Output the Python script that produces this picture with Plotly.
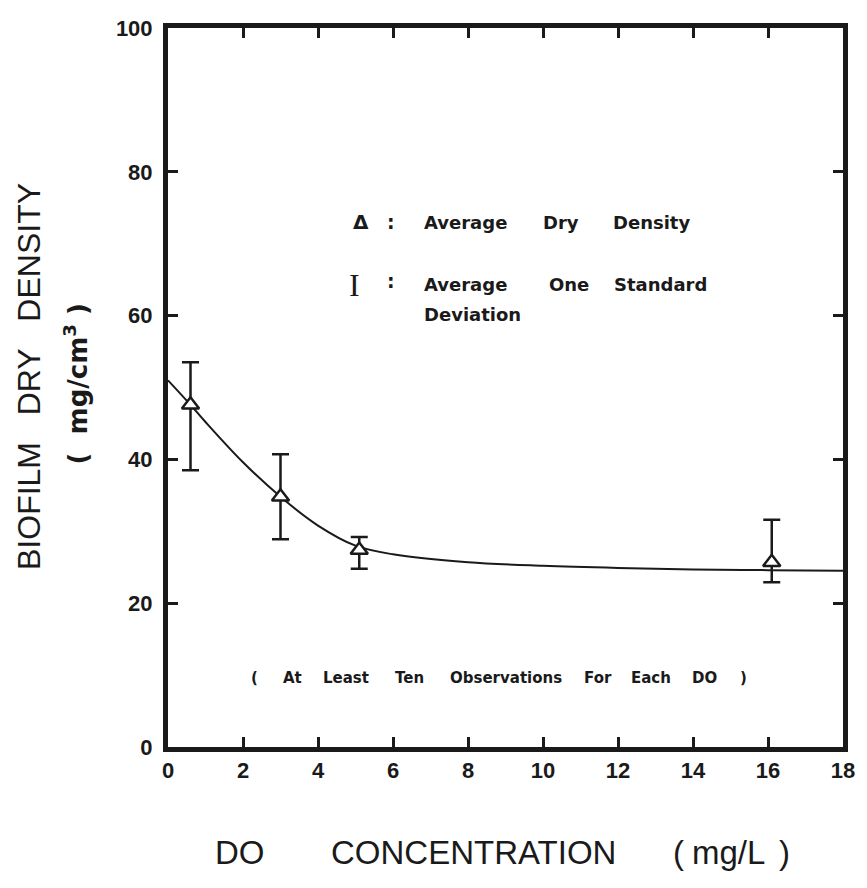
import plotly.graph_objects as go

# Measured averages (DO concentration mg/L vs dry density mg/cm^3)
do_conc = [0.6, 3.0, 5.1, 16.1]
density = [47.6, 34.8, 27.4, 25.7]
err_plus = [5.9, 5.9, 1.8, 5.9]
err_minus = [9.1, 5.9, 2.6, 2.8]

# Fitted curve, points
curve_x = [0, 0.6, 1, 2, 3, 4, 5, 6, 8, 10, 12, 14, 16, 18]
curve_y = [51.0, 47.6, 45.2, 39.6, 34.8, 30.8, 28.0, 26.8, 25.7, 25.2, 24.9, 24.7, 24.6, 24.5]

x_ticks = [0, 2, 4, 6, 8, 10, 12, 14, 16, 18]
y_ticks = [0, 20, 40, 60, 80, 100]

# Text pieces
legend_line1 = ["Average", "Dry", "Density"]
legend_line2 = ["Average", "One", "Standard"]
legend_line3 = ["Deviation"]
note_words = ["(", "At", "Least", "Ten", "Observations", "For", "Each", "DO", ")"]
xtitle_words = ["DO", "CONCENTRATION", "(", "mg/L", ")"]

SANS = "Liberation Sans"
WIDE = "DejaVu Sans"
INK = "#1a1a1a"

fig = go.Figure()
fig.add_trace(go.Scatter(
    x=curve_x, y=curve_y, mode="lines",
    line=dict(color=INK, width=2, shape="spline", smoothing=1.0),
    hoverinfo="skip", showlegend=False))
fig.add_trace(go.Scatter(
    x=do_conc, y=density, mode="markers",
    marker=dict(symbol="triangle-up", size=15, color="white",
                line=dict(color=INK, width=2.5)),
    error_y=dict(type="data", symmetric=False, array=err_plus,
                 arrayminus=err_minus, color=INK, thickness=2.5, width=8.5),
    showlegend=False))

axis_common = dict(
    showline=True, linecolor=INK, linewidth=5, mirror="ticks",
    ticks="inside", ticklen=10, tickwidth=2.5, tickcolor=INK,
    showgrid=False, zeroline=False,
    tickfont=dict(family=SANS, size=22, color=INK, weight="bold"),
)

fig.update_xaxes(range=[0, 18], tickvals=x_ticks,
                 ticktext=[str(v) for v in x_ticks], **axis_common)
fig.update_yaxes(range=[0, 100], tickvals=y_ticks,
                 ticktext=[str(v) for v in y_ticks], ticklabelstandoff=6,
                 **axis_common)


def txt(x, y, s, size=18, family=WIDE, weight="bold", yref="y", xanchor="left", angle=0):
    fig.add_annotation(x=x, y=y, xref="x", yref=yref, text=s, showarrow=False,
                       xanchor=xanchor, yanchor="middle", textangle=angle,
                       font=dict(family=family, size=size, color=INK, weight=weight))


# legend block
txt(4.87, 73.0, "Δ", size=20)
txt(5.78, 73.0, ":", size=19)
for w, xpos in zip(legend_line1, [6.78, 9.95, 11.81]):
    txt(xpos, 73.0, w)
txt(4.78, 64.2, "I", size=32, family="Liberation Serif", weight="normal")
txt(5.78, 64.8, ":", size=19)
for w, xpos in zip(legend_line2, [6.78, 10.11, 11.83]):
    txt(xpos, 64.3, w)
for w, xpos in zip(legend_line3, [6.78]):
    txt(xpos, 60.1, w)

# observation note
for w, xpos in zip(note_words, [2.17, 3.02, 4.08, 6.01, 7.46, 11.04, 12.28, 13.92, 15.19]):
    txt(xpos, 9.6, w, size=15)

# x-axis title, word by word
for w, xpos in zip(xtitle_words, [1.2, 4.28, 13.4, 13.92, 16.25]):
    txt(xpos, -0.147, w, size=33, family=SANS, weight="normal", yref="paper")

# y-axis titles
fig.add_annotation(x=-0.207, y=0.515, xref="paper", yref="paper",
                   text="BIOFILM&nbsp;&nbsp; DRY&nbsp;&nbsp; DENSITY", textangle=-90,
                   showarrow=False, xanchor="center", yanchor="middle",
                   font=dict(family=SANS, size=32, color=INK))
fig.add_annotation(x=-0.137, y=0.505, xref="paper", yref="paper",
                   text="(&nbsp;&nbsp;mg/cm<sup>3</sup>&nbsp;)", textangle=-90,
                   showarrow=False, xanchor="center", yanchor="middle",
                   font=dict(family=WIDE, size=26, color=INK, weight="bold"))

fig.update_layout(
    width=867, height=888,
    margin=dict(l=168, r=22, t=28, b=141),
    paper_bgcolor="white", plot_bgcolor="white",
)

fig.write_html("out.html")
